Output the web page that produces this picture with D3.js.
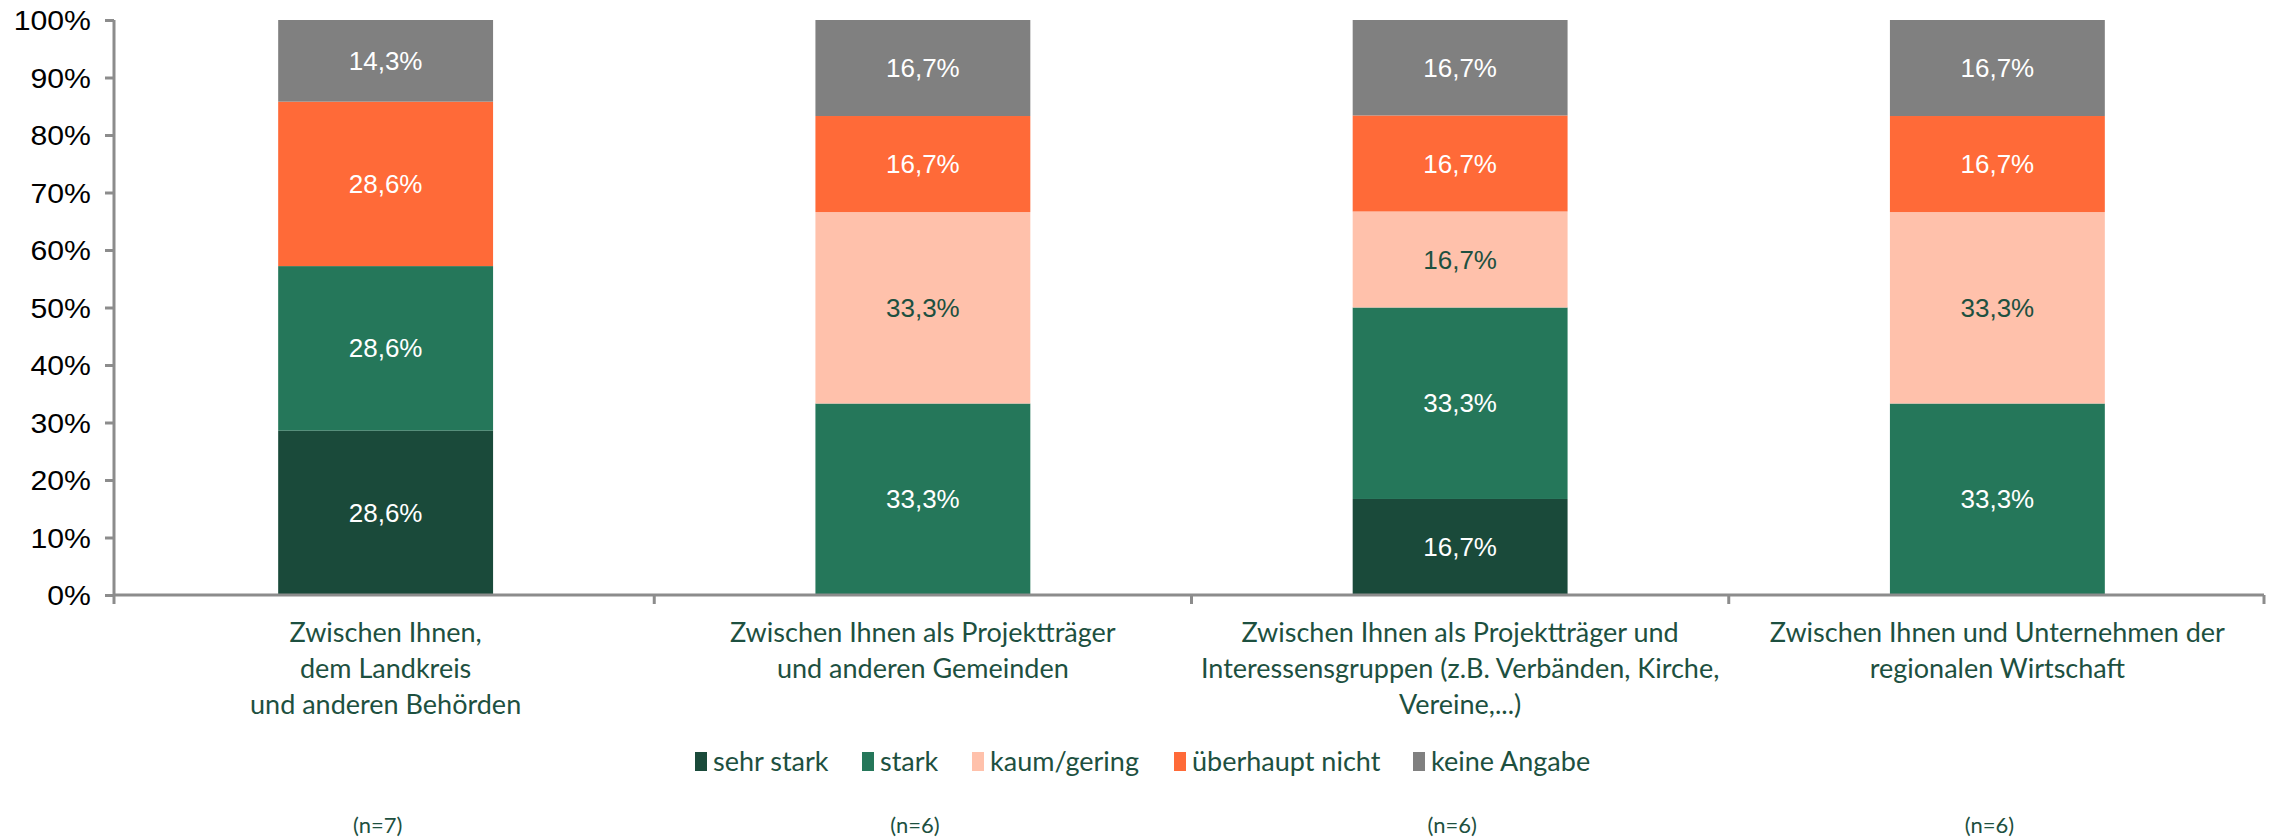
<!DOCTYPE html>
<html><head><meta charset="utf-8">
<script src="https://cdn.jsdelivr.net/npm/d3@7"></script>
<style>body{margin:0;background:#fff}svg{display:block}</style>
</head><body>
<svg id="c" width="2272" height="840"></svg>
<script>
const categories = [
  ["Zwischen Ihnen,", "dem Landkreis", "und anderen Behörden"],
  ["Zwischen Ihnen als Projektträger", "und anderen Gemeinden"],
  ["Zwischen Ihnen als Projektträger und", "Interessensgruppen (z.B. Verbänden, Kirche,", "Vereine,...)"],
  ["Zwischen Ihnen und Unternehmen der", "regionalen Wirtschaft"]
];
const nLabels = ["(n=7)", "(n=6)", "(n=6)", "(n=6)"];
const seriesNames = ["sehr stark", "stark", "kaum/gering", "überhaupt nicht", "keine Angabe"];
const sehrStark = [28.6, 0, 16.7, 0];
const stark = [28.6, 33.3, 33.3, 33.3];
const kaumGering = [0, 33.3, 16.7, 33.3];
const ueberhauptNicht = [28.6, 16.7, 16.7, 16.7];
const keineAngabe = [14.3, 16.7, 16.7, 16.7];
const yTicks = [0, 10, 20, 30, 40, 50, 60, 70, 80, 90, 100];

const colors = ["#1a4a3a", "#25775a", "#ffc1ab", "#ff6a38", "#808080"];
const labelColors = ["#ffffff", "#ffffff", "#1d5040", "#ffffff", "#ffffff"];
const textGreen = "#1d5040";
const axisColor = "#8c8c8c";

const seriesVals = [sehrStark, stark, kaumGering, ueberhauptNicht, keineAngabe];
const rows = categories.map((c, i) => {
  const r = {idx: i};
  seriesNames.forEach((s, j) => r[s] = seriesVals[j][i]);
  return r;
});
const stackData = d3.stack().keys(seriesNames)(rows);

const svg = d3.select("#c");
const mLeft = 114, mRight = 2264, mTop = 20, mBottom = 595;
const x = d3.scaleBand().domain(d3.range(categories.length)).range([mLeft + 3, mRight + 2]).paddingInner(0.6).paddingOuter(0.3);
const y = d3.scaleLinear().domain([0, 100]).range([mBottom, mTop]);

// bars
stackData.forEach((layer, j) => {
  const g = svg.append("g");
  layer.forEach((d, i) => {
    const h = d[1] - d[0];
    if (h <= 0) return;
    const y1 = y(Math.min(d[1], 100)), y0 = y(d[0]);
    g.append("rect")
      .attr("x", x(i)).attr("width", x.bandwidth())
      .attr("y", y1).attr("height", y0 - y1)
      .attr("fill", colors[j]);
    g.append("text")
      .attr("x", x(i) + x.bandwidth() / 2)
      .attr("y", (y0 + y1) / 2)
      .attr("dy", "0.35em")
      .attr("text-anchor", "middle")
      .attr("font-family", "'Liberation Sans', Arial, sans-serif")
      .attr("font-size", 26)
      .attr("fill", labelColors[j])
      .text(h.toFixed(1).replace(".", ",") + "%");
  });
});

// y axis
const yAxis = d3.axisLeft(y).tickValues(yTicks).tickSize(9).tickPadding(0).tickFormat(d => d + "%");
const ya = svg.append("g").attr("transform", `translate(${mLeft},0)`).call(yAxis);
ya.select(".domain").attr("stroke", axisColor).attr("stroke-width", 3).attr("d", `M0,${mTop}V${mBottom}`);
ya.selectAll(".tick line").attr("stroke", axisColor).attr("stroke-width", 3);
ya.selectAll(".tick text")
  .attr("font-family", "'Liberation Sans', Arial, sans-serif")
  .attr("font-size", 27).attr("fill", "#000")
  .attr("x", -23 / 1.12).attr("dy", "0.36em")
  .attr("transform", "scale(1.12,1)")
  .attr("text-anchor", "end");

// x axis
svg.append("line").attr("x1", mLeft).attr("x2", mRight).attr("y1", mBottom).attr("y2", mBottom)
  .attr("stroke", axisColor).attr("stroke-width", 3);
const step = x.step();
d3.range(1, categories.length + 1).forEach(k => {
  const xx = Math.min(x.range()[0] + k * step, mRight);
  svg.append("line").attr("x1", xx).attr("x2", xx).attr("y1", mBottom).attr("y2", mBottom + 9)
    .attr("stroke", axisColor).attr("stroke-width", 3);
});
svg.append("line").attr("x1", mLeft).attr("x2", mLeft).attr("y1", mBottom).attr("y2", mBottom + 9)
  .attr("stroke", axisColor).attr("stroke-width", 3);

// category labels
const catFont = "Lato, 'Open Sans', sans-serif";
categories.forEach((lines, i) => {
  const cx = x(i) + x.bandwidth() / 2;
  const t = svg.append("text").attr("text-anchor", "middle")
    .attr("font-family", catFont).attr("font-size", 27).attr("fill", textGreen);
  lines.forEach((ln, k) => {
    t.append("tspan").attr("x", cx).attr("y", 642 + k * 36).text(ln);
  });
  svg.append("text").attr("x", cx - 8).attr("y", 833).attr("text-anchor", "middle")
    .attr("font-family", catFont).attr("font-size", 22).attr("fill", textGreen).text(nLabels[i]);
});

// legend
const legendX = [695, 862, 972, 1174, 1413];
const lg = svg.append("g");
seriesNames.forEach((s, j) => {
  lg.append("rect").attr("x", legendX[j]).attr("y", 752).attr("width", 12).attr("height", 19).attr("fill", colors[j]);
  lg.append("text").attr("x", legendX[j] + 18).attr("y", 771)
    .attr("font-family", catFont).attr("font-size", 27).attr("fill", textGreen).text(s);
});
</script>
</body></html>
